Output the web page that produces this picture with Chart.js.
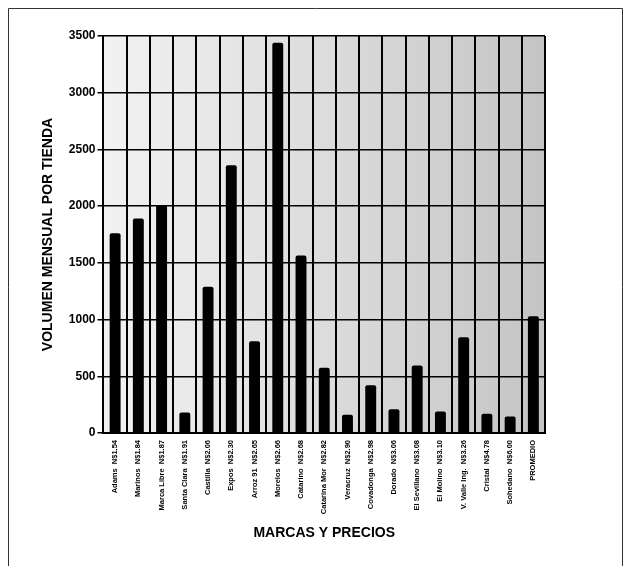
<!DOCTYPE html>
<html>
<head>
    <title>Volumen mensual por tienda</title>
    <script src="https://cdn.jsdelivr.net/npm/chart.js"></script>
    <style>
        body { margin: 0; background: #fff; }
        #wrap { position: relative; width: 630px; height: 569px; }
    </style>
</head>
<body>
    <div id="wrap">
        <canvas id="volChart" width="630" height="569"></canvas>
    </div>

    <script>
        const marcas = [
            'Adams  N$1.54', 'Marinos  N$1.84', 'Marca Libre  N$1.87', 'Santa Clara  N$1.91',
            'Castilla  N$2.06', 'Expos  N$2.30', 'Arroz 91  N$2.65', 'Morelos  N$2.66',
            'Catarino  N$2.68', 'Catarina Mor  N$2.82', 'Veracruz  N$2.90', 'Covadonga  N$2.98',
            'Dorado  N$3.06', 'El Sevillano  N$3.08', 'El Molino  N$3.10', 'V. Valle Ing.  N$3.26',
            'Cristal  N$4.78', 'Sohedano  N$6.00', 'PROMEDIO'
        ];
        const volumen = [1760, 1890, 2010, 180, 1290, 2360, 810, 3440, 1565, 575, 160, 420, 210, 595, 190, 845, 170, 145, 1030];
        const yTicks = [0, 500, 1000, 1500, 2000, 2500, 3000, 3500];

        const font = "'Liberation Sans', Arial, sans-serif";

        // stippled background: lighter on the left, darker on the right
        const backdrop = {
            id: 'backdrop',
            beforeDraw(chart) {
                const { ctx, chartArea: a } = chart;
                const g = ctx.createLinearGradient(a.left, 0, a.right, 0);
                g.addColorStop(0, '#f2f2f2');
                g.addColorStop(0.5, '#dcdcdc');
                g.addColorStop(1, '#c4c4c4');
                ctx.save();
                ctx.fillStyle = g;
                ctx.fillRect(a.left, a.top, a.right - a.left, a.bottom - a.top);
                ctx.restore();
            },
            afterDraw(chart) {
                const ctx = chart.ctx;
                ctx.save();
                ctx.strokeStyle = '#333';
                ctx.lineWidth = 1;
                ctx.beginPath();
                ctx.moveTo(8.5, 566);
                ctx.lineTo(8.5, 8.5);
                ctx.lineTo(622.5, 8.5);
                ctx.lineTo(622.5, 566);
                ctx.stroke();
                ctx.restore();
            }
        };

        new Chart(document.getElementById('volChart'), {
            type: 'bar',
            data: {
                labels: marcas,
                datasets: [{
                    data: volumen,
                    backgroundColor: '#000',
                    borderRadius: 2,
                    borderSkipped: 'bottom',
                    barPercentage: 0.47,
                    categoryPercentage: 1.0
                }]
            },
            options: {
                responsive: false,
                animation: false,
                layout: { padding: { left: 40, right: 85, top: 36, bottom: 27 } },
                plugins: { legend: { display: false }, tooltip: { enabled: false } },
                scales: {
                    x: {
                        grid: { offset: true, color: '#000', lineWidth: 2, drawTicks: false },
                        border: { color: '#000', width: 2 },
                        ticks: {
                            color: '#000',
                            font: { family: font, size: 7.5, weight: 'bold' },
                            minRotation: 90, maxRotation: 90, padding: 7, autoSkip: false
                        },
                        title: {
                            display: true, text: 'MARCAS Y PRECIOS', color: '#000',
                            font: { family: font, size: 14, weight: 'bold' },
                            padding: { top: 4, bottom: 0 }
                        }
                    },
                    y: {
                        min: 0, max: 3500,
                        afterBuildTicks(axis) { axis.ticks = yTicks.map(v => ({ value: v })); },
                        grid: { color: '#000', lineWidth: 1.5, tickLength: 6 },
                        border: { color: '#000', width: 2 },
                        ticks: {
                            color: '#000',
                            font: { family: font, size: 12, weight: 'bold' },
                            padding: 2,
                            callback: v => String(v)
                        },
                        title: {
                            display: true, text: 'VOLUMEN MENSUAL POR TIENDA', color: '#000',
                            font: { family: font, size: 14, weight: 'bold' },
                            padding: { top: 0, bottom: 10 }
                        }
                    }
                }
            },
            plugins: [backdrop]
        });
    </script>
</body>
</html>
